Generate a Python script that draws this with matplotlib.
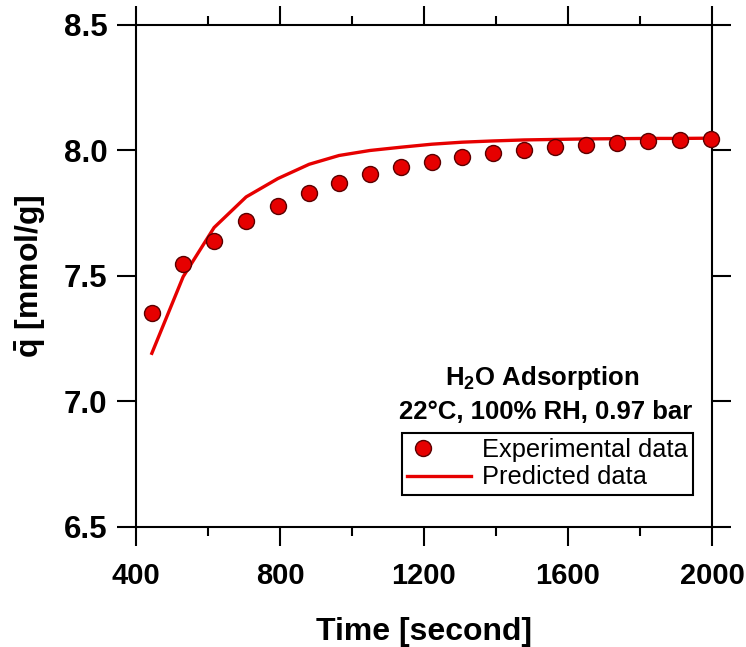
"""Cinétique d'adsorption de H2O : données expérimentales vs modèle"""

import matplotlib
matplotlib.use('Agg')
import matplotlib.pyplot as plt
from matplotlib.ticker import MultipleLocator, NullLocator, FormatStrFormatter
from matplotlib.legend_handler import HandlerLine2D

# temps [s] des points mesurés
time_exp = [444, 531, 617, 706, 794, 881, 964, 1050, 1136, 1222,
            1306, 1392, 1478, 1564, 1650, 1736, 1822, 1911, 1997]
q_exp = [7.354, 7.547, 7.641, 7.719, 7.780, 7.831, 7.870, 7.905, 7.933, 7.955,
         7.975, 7.991, 8.003, 8.013, 8.022, 8.031, 8.038, 8.042, 8.046]

# courbe prédite par le modèle
time_pred = time_exp
q_pred = [7.192, 7.497, 7.693, 7.815, 7.888, 7.945, 7.980, 8.000, 8.013, 8.025,
          8.033, 8.038, 8.042, 8.044, 8.046, 8.047, 8.048, 8.048, 8.049]


class LeftMarker(HandlerLine2D):
    """symbole de légende décalé vers la gauche (style Igor)"""
    def create_artists(self, legend, orig_handle, xdescent, ydescent, width, height,
                       fontsize, trans):
        arts = super().create_artists(legend, orig_handle, xdescent, ydescent, width,
                                      height, fontsize, trans)
        for a in arts:
            n = len(a.get_xdata())
            a.set_xdata([-xdescent + 0.25 * width] * n)
        return arts


plt.rcParams['font.family'] = ['Liberation Sans', 'DejaVu Sans']
plt.rcParams['mathtext.fontset'] = 'custom'
plt.rcParams['mathtext.rm'] = 'Liberation Sans:bold'
plt.rcParams['mathtext.it'] = 'Liberation Sans:bold'
plt.rcParams['mathtext.bf'] = 'Liberation Sans:bold'

red = '#E60000'

fig = plt.figure(figsize=(7.46, 6.47), dpi=100)
ax = fig.add_axes([0.1823, 0.1855, 0.7721, 0.7759])

ax.plot(time_pred, q_pred, color=red, lw=2.4, label='Predicted data', zorder=3)
exp_line, = ax.plot(time_exp, q_exp, ls='none', marker='o', ms=11.5, mfc=red, mec='#5a0000',
                    mew=1.0, label='Experimental data', zorder=4, clip_on=False)

ax.set_xlim(400, 2000)
ax.set_ylim(6.5, 8.5)
ax.xaxis.set_major_locator(MultipleLocator(400))
ax.xaxis.set_minor_locator(MultipleLocator(200))
ax.yaxis.set_major_locator(MultipleLocator(0.5))
ax.yaxis.set_minor_locator(NullLocator())
ax.yaxis.set_major_formatter(FormatStrFormatter('%.1f'))

for s in ax.spines.values():
    s.set_linewidth(1.5)
ax.tick_params(which='both', direction='out', top=True, right=True, width=1.5)
ax.tick_params(which='major', length=13.5, pad=7)
ax.tick_params(which='minor', length=6.5)
ax.tick_params(axis='x', which='major', pad=12, labelsize=21)
ax.tick_params(axis='y', which='major', labelsize=22.5)
for lab in ax.get_xticklabels() + ax.get_yticklabels():
    lab.set_fontweight('bold')

ax.set_xlabel('Time [second]', fontsize=23, fontweight='bold', labelpad=19)
ax.set_ylabel(r'$\bar{\mathrm{q}}$ [mmol/g]', fontsize=23, fontweight='bold', labelpad=11)

ax.text(0.705, 0.297, r'H$_2$O Adsorption', transform=ax.transAxes, ha='center',
        va='center', fontsize=18.5, fontweight='bold')
ax.text(0.712, 0.229, '22°C, 100% RH, 0.97 bar', transform=ax.transAxes, ha='center',
        va='center', fontsize=18.5, fontweight='bold')

h, l = ax.get_legend_handles_labels()
leg = ax.legend(h[::-1], l[::-1], loc='upper right', bbox_to_anchor=(0.967, 0.188),
                borderaxespad=0, fontsize=18.3, frameon=True, fancybox=False,
                edgecolor='black', framealpha=1, handlelength=2.5, handletextpad=0.45,
                labelspacing=0.15, borderpad=0.2,
                handler_map={exp_line: LeftMarker(numpoints=1)})
leg.get_frame().set_linewidth(1.5)

fig.savefig('out.png', dpi=100)
